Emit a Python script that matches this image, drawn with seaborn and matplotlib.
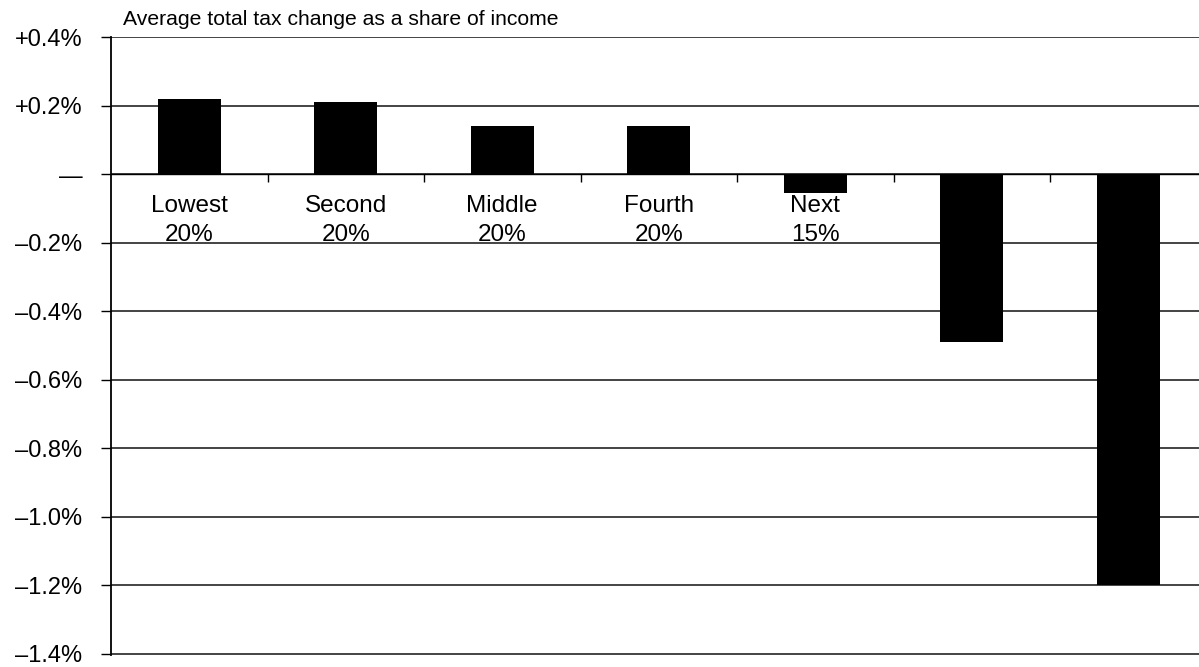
import matplotlib
matplotlib.use("Agg")
import matplotlib.pyplot as plt
import seaborn as sns
import pandas as pd

# Income groups and average total tax change (% of income)
groups = ["Lowest 20%", "Second 20%", "Middle 20%", "Fourth 20%",
          "Next 15%", "Next 4%", "Top 1%"]
tax_change = [0.22, 0.21, 0.14, 0.14, -0.056, -0.49, -1.2]
group_labels = ["Lowest\n20%", "Second\n20%", "Middle\n20%", "Fourth\n20%",
                "Next\n15%", "", ""]

y_ticks = [0.4, 0.2, 0.0, -0.2, -0.4, -0.6, -0.8, -1.0, -1.2, -1.4]
y_tick_labels = ["+0.4%", "+0.2%", "\u2014", "\u20130.2%", "\u20130.4%",
                 "\u20130.6%", "\u20130.8%", "\u20131.0%", "\u20131.2%",
                 "\u20131.4%"]

title = "Average total tax change as a share of income"

sns.set_theme(style="white")
plt.rcParams["font.family"] = ["Liberation Sans", "DejaVu Sans"]

df = pd.DataFrame({"group": groups, "change": tax_change})

W, H = 1199, 667
fig = plt.figure(figsize=(W / 100, H / 100), dpi=100)
left_px, top_px, bottom_px = 111, 36.5, 655
slot_px = 156.5
ax = fig.add_axes([left_px / W, 1 - bottom_px / H,
                   7 * slot_px / W, (bottom_px - top_px) / H])

sns.barplot(data=df, x="group", y="change", order=groups, color="black",
            saturation=1, width=0.4, ax=ax, zorder=3)
for p in ax.patches:
    p.set_linewidth(0)

ax.set_xlim(-0.5, 6.5)
ax.set_ylim(-1.404, 0.402)
ax.set_xlabel("")
ax.set_ylabel("")

# Horizontal gridlines
ax.set_axisbelow(True)
ax.yaxis.grid(True, color="#111111", linewidth=1.1)
ax.xaxis.grid(False)

ax.set_yticks(y_ticks)
ax.set_yticklabels(y_tick_labels, fontsize=17, color="black")
ax.tick_params(axis="y", which="major", direction="out", length=7,
               width=1, color="black", pad=13.5, left=True)

# Category axis sits on the zero line
ax.spines["bottom"].set_position(("data", 0))
ax.spines["bottom"].set_color("black")
ax.spines["bottom"].set_linewidth(1.0)
ax.spines["bottom"].set_zorder(2)
ax.set_xticks(range(len(groups)))
ax.set_xticklabels(group_labels, fontsize=17.5, color="black",
                   linespacing=1.4)
ax.set_xticks([i + 0.5 for i in range(len(groups) - 1)], minor=True)
ax.tick_params(axis="x", which="major", length=0, pad=15, bottom=True)
ax.tick_params(axis="x", which="minor", direction="out", length=5.5,
               width=1, color="black", bottom=True)

ax.spines["left"].set_color("black")
ax.spines["left"].set_linewidth(1.3)
ax.spines["top"].set_visible(False)
ax.spines["right"].set_visible(False)

fig.text(123 / W, 1 - 25 / H, title, fontsize=15.2, color="black",
         ha="left", va="baseline")

fig.savefig("out.png", dpi=100, facecolor="white")
